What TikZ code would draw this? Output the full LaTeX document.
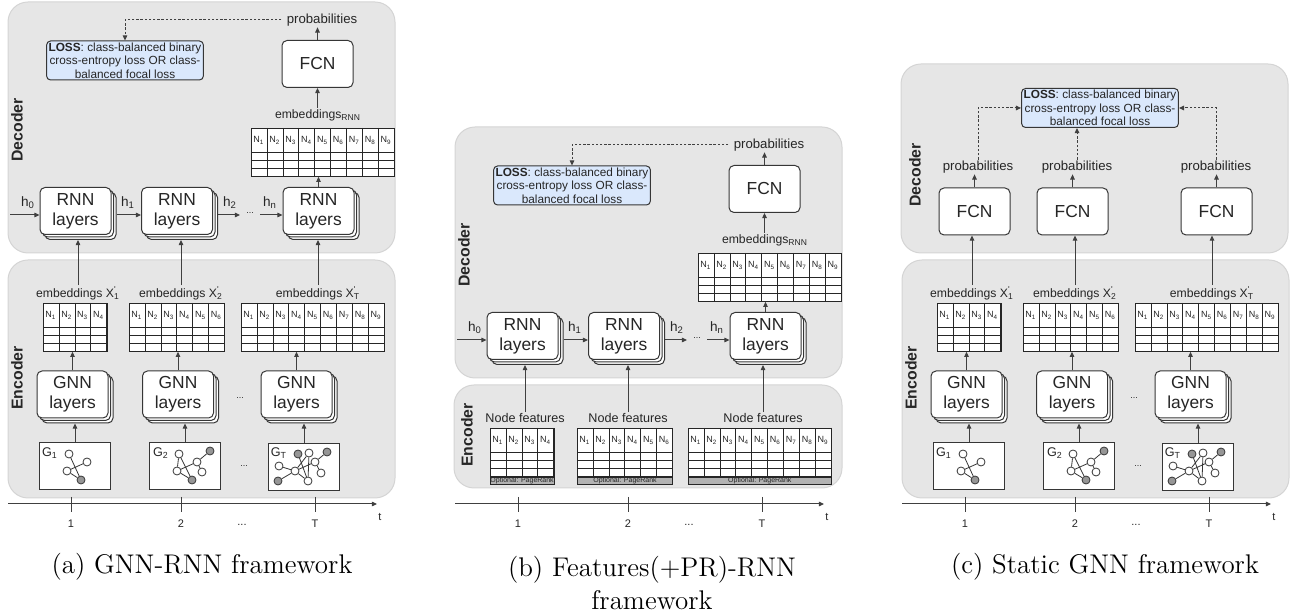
\documentclass[tikz,border=0pt]{standalone}
\usepackage{fontspec}
\newfontfamily\drawiofont{Liberation Sans}
\usepackage{tikz}
\usetikzlibrary{arrows.meta}
\definecolor{panelfill}{RGB}{230,230,230}
\definecolor{paneledge}{RGB}{212,212,212}
\definecolor{lossfill}{RGB}{218,232,252}
\definecolor{boxedge}{RGB}{54,54,54}
\definecolor{inkgray}{RGB}{38,38,38}
\definecolor{linegray}{RGB}{64,64,64}
\definecolor{nodegray}{RGB}{150,150,150}
\definecolor{barfill}{RGB}{178,178,178}

\tikzset{
  panel/.style={draw=paneledge, fill=panelfill, rounded corners=10pt, line width=0.5pt},
  paneltitle/.style={rotate=90, inner sep=0pt, text=inkgray, font=\drawiofont\bfseries\fontsize{7.9}{9}\selectfont},
  block/.style={draw=boxedge, fill=white, rounded corners=2.5pt, line width=0.5pt,
    minimum width=35.5pt, minimum height=23.5pt, inner sep=0pt, align=center,
    text=inkgray, font=\drawiofont\fontsize{8.7}{10}\selectfont},
  lossbox/.style={draw=boxedge, fill=lossfill, rounded corners=2pt, line width=0.5pt,
    minimum width=77pt, minimum height=19.5pt, inner xsep=1pt, inner ysep=0.4pt, align=center,
    text=inkgray, font=\drawiofont\fontsize{5.9}{6.85}\selectfont},
  lbl/.style={inner sep=0.4pt, text=inkgray, font=\drawiofont\fontsize{6.1}{7}\selectfont},
  prob/.style={inner xsep=2.5pt, font=\drawiofont\fontsize{6.6}{7.5}\selectfont},
  nf/.style={font=\drawiofont\fontsize{6.3}{7.5}\selectfont},
  hlbl/.style={lbl, font=\drawiofont\fontsize{6.8}{8}\selectfont},
  dots/.style={lbl, font=\drawiofont\fontsize{4.5}{5}\selectfont},
  conn/.style={draw=linegray, line width=0.5pt, -{Triangle[length=2.6pt,width=2.3pt]}},
  lossflow/.style={conn, dash pattern=on 1.2pt off 0.9pt},
  tbl/.style={draw=black!85, line width=0.4pt, inner sep=0pt, anchor=north west},
  gridline/.style={draw=black!85, line width=0.3pt},
  cell/.style={inner sep=0pt, text=inkgray, font=\drawiofont\fontsize{4.5}{5}\selectfont},
  prbar/.style={draw=black!85, fill=barfill, line width=0.3pt, inner sep=0pt, minimum height=3.5pt,
    anchor=north west, text=inkgray, font=\drawiofont\fontsize{3.5}{4}\selectfont},
  graphbox/.style={draw=boxedge, fill=white, line width=0.5pt, minimum width=35.5pt,
    minimum height=23.5pt, inner sep=0pt, anchor=north west},
  glabel/.style={lbl, font=\drawiofont\fontsize{6.3}{7}\selectfont},
  vtx/.style={circle, draw=boxedge, fill=white, line width=0.4pt, minimum size=4pt, inner sep=0pt},
  hot/.style={vtx, fill=nodegray},
  link/.style={draw=boxedge, line width=0.4pt},
  timeline/.style={draw=linegray, line width=0.5pt, -{Triangle[length=2.6pt,width=2.3pt]}},
  tickmark/.style={draw=linegray, line width=0.4pt},
  axlbl/.style={inner sep=0pt, text=inkgray, font=\drawiofont\fontsize{5.5}{6}\selectfont},
  caption/.style={inner sep=0pt, align=center, font=\fontsize{13.5}{16.5}\selectfont}
}

% three stacked copies of a rounded box
\newcommand{\stackedbox}[4]{%
  \node[block, xshift=2.5pt, yshift=-2.5pt] (#1-back) at (#2,#3) {};
  \node[block, xshift=1.25pt, yshift=-1.25pt] (#1-mid) at (#2,#3) {};
  \node[block] (#1) at (#2,#3) {#4};
}

% node table: name, top-left x, top-left y, columns
\newcommand{\ntable}[4]{%
  \begin{scope}[shift={(#2,#3)}]
    \fill[white] (0,0) rectangle (#4*15.9,48);
    \foreach \row in {24,32,40}
      \draw[gridline] (0,\row) -- (#4*15.9,\row);
    \foreach \col in {1,...,#4} {
      \draw[gridline] (\col*15.9,0) -- (\col*15.9,48);
      \node[cell] (#1-n\col) at (\col*15.9-7.95,12) {N\textsubscript{\col}};
    }
    \node[tbl, minimum width=#4*7.95pt, minimum height=24pt] (#1) at (0,0) {};
  \end{scope}
}

% snapshot graphs: name, top-left x, top-left y
\newcommand{\graphone}[3]{%
  \begin{scope}[shift={(#2,#3)}]
    \node[graphbox] (#1) at (0,0) {};
    \node[glabel] (#1-lbl) at (11,11) {G\textsubscript{1}};
    \node[vtx] (#1-v1) at (30,12) {};
    \node[vtx] (#1-v2) at (48,20) {};
    \node[vtx] (#1-v3) at (28,29) {};
    \node[hot] (#1-v4) at (42,38) {};
    \draw[link] (#1-v1) -- (#1-v4) (#1-v2) -- (#1-v3) (#1-v3) -- (#1-v4);
  \end{scope}
}
\newcommand{\graphtwo}[3]{%
  \begin{scope}[shift={(#2,#3)}]
    \node[graphbox] (#1) at (0,0) {};
    \node[glabel] (#1-lbl) at (12,11) {G\textsubscript{2}};
    \node[vtx] (#1-v1) at (30,12) {};
    \node[hot] (#1-v2) at (61,9) {};
    \node[vtx] (#1-v3) at (48,20) {};
    \node[vtx] (#1-v4) at (28,29) {};
    \node[vtx] (#1-v5) at (53,30) {};
    \node[hot] (#1-v6) at (43,38) {};
    \draw[link] (#1-v1) -- (#1-v4) (#1-v1) -- (#1-v6) (#1-v4) -- (#1-v3)
      (#1-v4) -- (#1-v6) (#1-v3) -- (#1-v2) (#1-v3) -- (#1-v5);
  \end{scope}
}
\newcommand{\graphlast}[3]{%
  \begin{scope}[shift={(#2,#3)}]
    \node[graphbox] (#1) at (0,0) {};
    \node[glabel] (#1-lbl) at (11,10) {G\textsubscript{T}};
    \node[hot] (#1-v1) at (30,11) {};
    \node[vtx] (#1-v2) at (41,10) {};
    \node[hot] (#1-v3) at (59,9) {};
    \node[vtx] (#1-v4) at (47,19) {};
    \node[vtx] (#1-v5) at (11,23) {};
    \node[vtx] (#1-v6) at (27,28) {};
    \node[vtx] (#1-v7) at (53,30) {};
    \node[vtx] (#1-v8) at (40,38) {};
    \node[hot] (#1-v9) at (10,38) {};
    \draw[link] (#1-v5) -- (#1-v6) (#1-v9) -- (#1-v6) (#1-v6) -- (#1-v4)
      (#1-v1) -- (#1-v8) (#1-v2) -- (#1-v6) (#1-v2) -- (#1-v8)
      (#1-v4) -- (#1-v3) (#1-v4) -- (#1-v7) (#1-v6) -- (#1-v8);
  \end{scope}
}

% decoder with recurrent layers: prefix, shift x, shift y
\newcommand{\rnndecoder}[3]{%
  \begin{scope}[shift={(#2,#3)}]
    \draw[panel] (8,2) rectangle (395,253);
    \node[paneltitle] (#1-dec) at (17,130) {Decoder};
    \node[lossbox] (#1-loss) at (125,60.5) {\textbf{LOSS}: class-balanced binary\\cross-entropy loss OR class-\\balanced focal loss};
    \node[lbl, prob] (#1-prob) at (322,20) {probabilities};
    \node[block] (#1-fcn) at (317.5,64) {FCN};
    \node[lbl] (#1-embr) at (318,115) {embeddings\textsubscript{RNN}};
    \ntable{#1-tab}{251}{128}{9}
    \stackedbox{#1-rnn1}{75.5}{211}{RNN\\layers}
    \stackedbox{#1-rnn2}{177}{211}{RNN\\layers}
    \stackedbox{#1-rnn3}{318.5}{211}{RNN\\layers}
    \coordinate (#1-h0) at (10,215);
    \coordinate (#1-h2) at (240,215);
    \coordinate (#1-hn) at (260,215);
    \node[dots] (#1-hdots) at (250,213) {...};
    \node[hlbl] (#1-l0) at (28,203) {h\textsubscript{0}};
    \node[hlbl] (#1-l1) at (128,203) {h\textsubscript{1}};
    \node[hlbl] (#1-l2) at (230,203) {h\textsubscript{2}};
    \node[hlbl] (#1-ln) at (270,203) {h\textsubscript{n}};
    \draw[conn] (#1-h0) -- (#1-rnn1.west |- #1-h0);
    \draw[conn] (#1-rnn1-back.east |- #1-h0) -- (#1-rnn2.west |- #1-h0);
    \draw[conn] (#1-rnn2-back.east |- #1-h0) -- (#1-h2);
    \draw[conn] (#1-hn) -- (#1-rnn3.west |- #1-h0);
    \draw[conn] (#1-rnn3.north) -- (#1-rnn3.north |- #1-tab.south);
    \draw[conn] (#1-fcn.south |- #1-embr.north) -- (#1-fcn.south);
    \draw[conn] (#1-fcn.north) -- (#1-fcn.north |- #1-prob.south);
    \draw[lossflow] (#1-prob.west) -| (#1-loss.north);
  \end{scope}
}

% encoder with graph layers: prefix, shift x
\newcommand{\gnnencoder}[2]{%
  \begin{scope}[shift={(#2,0)}]
    \draw[panel] (8,260) rectangle (395,498);
    \node[paneltitle] (#1-enc) at (17,378) {Encoder};
    \node[lbl] (#1-emb1) at (78,293) {embeddings X\rlap{\textsuperscript{'}}\textsubscript{1}};
    \node[lbl] (#1-emb2) at (181,293) {embeddings X\rlap{\textsuperscript{'}}\textsubscript{2}};
    \node[lbl] (#1-emb3) at (318,293) {embeddings X\rlap{\textsuperscript{'}}\textsubscript{T}};
    \ntable{#1-tab1}{43}{303}{4}
    \ntable{#1-tab2}{129}{303}{6}
    \ntable{#1-tab3}{241}{303}{9}
    \stackedbox{#1-gnn1}{72.5}{394.5}{GNN\\layers}
    \stackedbox{#1-gnn2}{178}{394.5}{GNN\\layers}
    \stackedbox{#1-gnn3}{296.5}{394.5}{GNN\\layers}
    \node[dots] (#1-gdots) at (240,398) {...};
    \graphone{#1-g1}{39}{442}
    \graphtwo{#1-g2}{149}{442}
    \graphlast{#1-g3}{268}{443}
    \node[dots] (#1-sdots) at (244,466) {...};
    \foreach \i in {1,2,3} {
      \draw[conn] (#1-g\i.north) -- (#1-g\i.north |- #1-gnn\i-back.south);
      \draw[conn] (#1-gnn\i.north) -- (#1-gnn\i.north |- #1-tab\i.south);
    }
  \end{scope}
}

% time axis: prefix, shift x
\newcommand{\timeaxis}[2]{%
  \begin{scope}[shift={(#2,0)}]
    \coordinate (#1-t0) at (8,504);
    \coordinate (#1-t1) at (377,504);
    \draw[timeline] (#1-t0) -- (#1-t1);
    \foreach \x/\s in {71/1,181/2,315/T} {
      \draw[tickmark] (\x,497) -- (\x,512);
      \node[axlbl] (#1-tick\s) at (\x,524) {\s};
    }
    \node[axlbl] (#1-tdots) at (242,525) {...};
    \node[axlbl] (#1-tvar) at (380,517) {t};
  \end{scope}
}

\begin{document}
\begin{tikzpicture}[x=0.5pt, y=-0.5pt]
  \useasboundingbox (0,0) rectangle (1294,613);

  % (a) GNN-RNN
  \rnndecoder{a}{0}{0}
  \gnnencoder{a}{0}
  \foreach \i in {1,2,3}
    \draw[conn] (a-emb\i.north) -- (a-emb\i.north |- a-rnn\i-back.south);
  \timeaxis{a}{0}

  % (b) Features(+PR)-RNN
  \rnndecoder{b}{447}{125}
  \draw[panel] (454,385) rectangle (842,488);
  \node[paneltitle] (b-enc) at (467,435) {Encoder};
  \foreach \i/\x in {1/525,2/628,3/763}
    \node[lbl, nf] (b-nf\i) at (\x,418) {Node features};
  \ntable{b-tab1}{490}{428}{4}
  \ntable{b-tab2}{577}{428}{6}
  \ntable{b-tab3}{688}{428}{9}
  \foreach \i/\n in {1/4,2/6,3/9} {
    \node[prbar, minimum width=\n*7.95pt] (b-pr\i) at (b-tab\i.south west) {Optional: PageRank};
    \draw[conn] (b-nf\i.north) -- (b-nf\i.north |- b-rnn\i-back.south);
  }
  \timeaxis{b}{447}

  % (c) static GNN
  \draw[panel] (901,64) rectangle (1288,253);
  \node[paneltitle] (c-dec) at (915,175) {Decoder};
  \node[lossbox] (c-loss) at (1100,108) {\textbf{LOSS}: class-balanced binary\\cross-entropy loss OR class-\\balanced focal loss};
  \foreach \i/\x/\p in {1/974.5/978,2/1072.5/1077,3/1216.5/1216} {
    \node[block] (c-fcn\i) at (\x,211.5) {FCN};
    \node[lbl, prob] (c-prob\i) at (\p,167) {probabilities};
    \draw[conn] (c-fcn\i.north) -- (c-fcn\i.north |- c-prob\i.south);
  }
  \draw[lossflow] (c-prob1.north) |- (c-loss.west);
  \draw[lossflow] (c-prob2.north) -- (c-prob2.north |- c-loss.south);
  \draw[lossflow] (c-prob3.north) |- (c-loss.east);
  \gnnencoder{c}{894}
  \foreach \i in {1,2,3}
    \draw[conn] (c-emb\i.north) -- (c-emb\i.north |- c-fcn\i.south);
  \timeaxis{c}{894}

  % captions
  \node[caption] (cap-a) at (202,567) {(a) GNN-RNN framework};
  \node[caption] (cap-b) at (652,583) {(b) Features(+PR)-RNN\\framework};
  \node[caption] (cap-c) at (1105,567) {(c) Static GNN framework};
\end{tikzpicture}
\end{document}
